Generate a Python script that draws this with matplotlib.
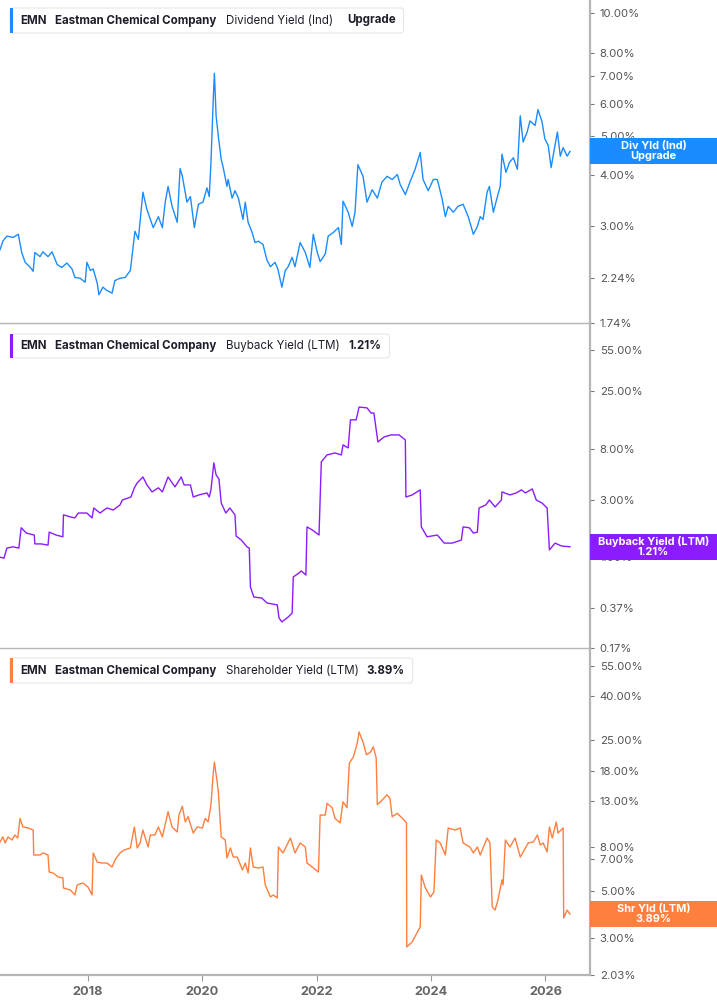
import numpy as np
import matplotlib.pyplot as plt
from matplotlib.patches import Rectangle, FancyBboxPatch
from matplotlib.ticker import FixedLocator, NullLocator, FuncFormatter

plt.rcParams['font.family'] = ['Inter', 'DejaVu Sans']

# Dividend Yield (Ind), % -- decimal years
div_t = [2016.46, 2016.51, 2016.58, 2016.69, 2016.78, 2016.84, 2016.90, 2016.98, 2017.04, 2017.07,
         2017.16, 2017.21, 2017.30, 2017.37, 2017.46, 2017.54, 2017.63, 2017.72, 2017.77, 2017.86,
         2017.95, 2017.98, 2018.04, 2018.09, 2018.16, 2018.19, 2018.26, 2018.33, 2018.42, 2018.47,
         2018.56, 2018.65, 2018.74, 2018.79, 2018.82, 2018.88, 2018.93, 2018.96, 2019.03, 2019.09,
         2019.14, 2019.23, 2019.30, 2019.35, 2019.40, 2019.47, 2019.56, 2019.61, 2019.65, 2019.73,
         2019.79, 2019.86, 2019.93, 2020.01, 2020.08, 2020.12, 2020.15, 2020.19, 2020.21, 2020.24,
         2020.28, 2020.33, 2020.36, 2020.43, 2020.45, 2020.52, 2020.57, 2020.63, 2020.71, 2020.75,
         2020.80, 2020.87, 2020.92, 2020.98, 2021.06, 2021.13, 2021.19, 2021.27, 2021.32, 2021.39,
         2021.45, 2021.50, 2021.57, 2021.62, 2021.71, 2021.80, 2021.88, 2021.94, 2022.01, 2022.06,
         2022.15, 2022.20, 2022.29, 2022.38, 2022.43, 2022.46, 2022.55, 2022.62, 2022.67, 2022.72,
         2022.81, 2022.88, 2022.97, 2023.06, 2023.14, 2023.23, 2023.32, 2023.41, 2023.46, 2023.55,
         2023.63, 2023.72, 2023.81, 2023.86, 2023.95, 2024.04, 2024.11, 2024.19, 2024.25, 2024.30,
         2024.39, 2024.47, 2024.56, 2024.65, 2024.74, 2024.81, 2024.86, 2024.91, 2024.98, 2025.02,
         2025.09, 2025.16, 2025.21, 2025.24, 2025.31, 2025.37, 2025.44, 2025.51, 2025.56, 2025.61,
         2025.68, 2025.73, 2025.82, 2025.87, 2025.94, 2025.99, 2026.05, 2026.10, 2026.14, 2026.21,
         2026.26, 2026.31, 2026.38, 2026.43]
div_v = [2.63, 2.76, 2.84, 2.82, 2.87, 2.59, 2.45, 2.39, 2.33, 2.59,
         2.53, 2.60, 2.53, 2.60, 2.42, 2.38, 2.44, 2.36, 2.25, 2.24,
         2.19, 2.45, 2.34, 2.36, 2.18, 2.04, 2.13, 2.09, 2.06, 2.21,
         2.24, 2.25, 2.34, 2.68, 2.92, 2.79, 3.30, 3.64, 3.30, 3.12,
         2.98, 3.17, 2.98, 3.44, 3.76, 3.36, 3.07, 4.16, 3.98, 3.44,
         3.55, 2.98, 3.40, 3.44, 3.73, 3.55, 4.30, 6.14, 7.12, 5.60,
         4.97, 4.37, 4.21, 3.76, 3.91, 3.52, 3.67, 3.52, 3.12, 3.44,
         3.07, 2.90, 2.74, 2.76, 2.71, 2.48, 2.39, 2.45, 2.36, 2.13,
         2.34, 2.39, 2.52, 2.39, 2.74, 2.59, 2.38, 2.87, 2.59, 2.46,
         2.57, 2.84, 2.90, 2.98, 2.71, 3.46, 3.25, 3.00, 3.25, 4.25,
         3.98, 3.44, 3.69, 3.52, 3.85, 3.98, 3.91, 4.02, 3.80, 3.59,
         3.85, 4.14, 4.55, 3.91, 3.67, 3.91, 3.91, 3.52, 3.17, 3.36,
         3.25, 3.36, 3.40, 3.17, 2.87, 3.00, 3.17, 3.12, 3.64, 3.76,
         3.25, 3.55, 3.76, 4.51, 4.07, 4.30, 4.42, 4.14, 5.60, 4.83,
         5.11, 5.44, 5.30, 5.80, 5.42, 4.92, 4.73, 4.18, 4.51, 5.11,
         4.46, 4.68, 4.46, 4.58]

# Buyback Yield (LTM), %
bb_t = [2016.46, 2016.53, 2016.58, 2016.69, 2016.79, 2016.83, 2016.92, 2017.06, 2017.07, 2017.18,
        2017.30, 2017.32, 2017.44, 2017.56, 2017.57, 2017.69, 2017.77, 2017.83, 2017.98, 2018.07,
        2018.10, 2018.21, 2018.33, 2018.44, 2018.56, 2018.60, 2018.75, 2018.81, 2018.86, 2018.96,
        2019.03, 2019.12, 2019.23, 2019.30, 2019.40, 2019.52, 2019.63, 2019.68, 2019.79, 2019.84,
        2019.94, 2020.08, 2020.12, 2020.15, 2020.20, 2020.24, 2020.29, 2020.33, 2020.41, 2020.48,
        2020.57, 2020.59, 2020.68, 2020.78, 2020.82, 2020.84, 2020.90, 2021.04, 2021.13, 2021.31,
        2021.34, 2021.39, 2021.50, 2021.57, 2021.59, 2021.69, 2021.73, 2021.81, 2021.83, 2021.92,
        2022.04, 2022.08, 2022.18, 2022.32, 2022.43, 2022.46, 2022.55, 2022.59, 2022.69, 2022.74,
        2022.88, 2022.95, 2023.00, 2023.07, 2023.18, 2023.30, 2023.44, 2023.55, 2023.56, 2023.67,
        2023.81, 2023.83, 2023.93, 2024.11, 2024.23, 2024.37, 2024.53, 2024.56, 2024.67, 2024.74,
        2024.81, 2024.84, 2024.96, 2025.02, 2025.12, 2025.23, 2025.24, 2025.38, 2025.49, 2025.58,
        2025.65, 2025.77, 2025.84, 2025.94, 2026.03, 2026.07, 2026.17, 2026.28, 2026.43]
bb_v = [0.99, 0.97, 1.18, 1.21, 1.18, 1.75, 1.58, 1.52, 1.28, 1.28,
        1.25, 1.61, 1.52, 1.47, 2.25, 2.16, 2.12, 2.33, 2.33, 2.12,
        2.57, 2.33, 2.57, 2.47, 2.73, 3.00, 3.18, 3.80, 4.18, 4.69,
        4.02, 3.51, 3.80, 3.51, 4.69, 3.87, 4.69, 4.02, 4.02, 3.18,
        3.31, 3.44, 3.18, 3.65, 6.16, 4.88, 4.51, 2.83, 2.33, 2.57,
        2.25, 1.49, 1.38, 1.21, 1.18, 0.556, 0.457, 0.448, 0.407, 0.392,
        0.305, 0.282, 0.310, 0.335, 0.674, 0.729, 0.758, 0.70, 1.78, 1.68,
        1.52, 6.28, 7.19, 7.47, 7.19, 8.73, 8.24, 14.2, 14.2, 18.2,
        17.9, 16.2, 16.2, 9.25, 10.2, 10.6, 10.6, 9.62, 3.18, 3.31,
        3.65, 1.78, 1.47, 1.52, 1.30, 1.30, 1.38, 1.78, 1.75, 1.58,
        1.61, 2.57, 2.73, 3.00, 2.62, 3.00, 3.51, 3.31, 3.44, 3.65,
        3.44, 3.72, 3.00, 2.83, 2.57, 1.14, 1.30, 1.23, 1.21]

# Shareholder Yield (LTM), %
shr_t = [2016.46, 2016.51, 2016.55, 2016.60, 2016.67, 2016.72, 2016.77, 2016.81, 2016.86, 2016.95,
         2017.04, 2017.05, 2017.16, 2017.21, 2017.30, 2017.32, 2017.39, 2017.48, 2017.56, 2017.57,
         2017.69, 2017.77, 2017.81, 2017.91, 2018.00, 2018.07, 2018.09, 2018.16, 2018.24, 2018.33,
         2018.42, 2018.47, 2018.56, 2018.63, 2018.74, 2018.79, 2018.81, 2018.86, 2018.91, 2018.96,
         2019.05, 2019.09, 2019.17, 2019.23, 2019.30, 2019.38, 2019.40, 2019.47, 2019.56, 2019.59,
         2019.65, 2019.70, 2019.75, 2019.84, 2019.91, 2020.00, 2020.05, 2020.10, 2020.15, 2020.19,
         2020.21, 2020.26, 2020.28, 2020.31, 2020.33, 2020.40, 2020.43, 2020.49, 2020.54, 2020.61,
         2020.70, 2020.75, 2020.80, 2020.84, 2020.89, 2020.98, 2021.06, 2021.10, 2021.19, 2021.24,
         2021.31, 2021.33, 2021.41, 2021.48, 2021.54, 2021.62, 2021.71, 2021.80, 2021.83, 2021.92,
         2022.03, 2022.06, 2022.15, 2022.18, 2022.27, 2022.32, 2022.41, 2022.46, 2022.53, 2022.57,
         2022.64, 2022.71, 2022.74, 2022.81, 2022.87, 2022.94, 2022.99, 2023.04, 2023.06, 2023.14,
         2023.23, 2023.28, 2023.32, 2023.41, 2023.50, 2023.57, 2023.575, 2023.67, 2023.76, 2023.81,
         2023.83, 2023.90, 2023.99, 2024.05, 2024.09, 2024.16, 2024.25, 2024.30, 2024.42, 2024.51,
         2024.56, 2024.68, 2024.74, 2024.81, 2024.86, 2024.98, 2025.03, 2025.07, 2025.12, 2025.17,
         2025.24, 2025.26, 2025.30, 2025.38, 2025.47, 2025.56, 2025.61, 2025.70, 2025.79, 2025.86,
         2025.91, 2025.96, 2026.03, 2026.07, 2026.12, 2026.19, 2026.22, 2026.31, 2026.32, 2026.38,
         2026.43]
shr_v = [8.40, 8.86, 8.31, 8.86, 8.58, 9.05, 8.76, 10.8, 9.86, 9.75,
         9.54, 7.31, 7.31, 7.47, 7.31, 6.09, 6.03, 5.78, 5.72, 5.14,
         5.03, 4.77, 5.31, 5.42, 5.19, 4.77, 7.47, 6.78, 6.71, 6.71,
         6.43, 6.93, 7.47, 7.71, 7.88, 9.24, 9.86, 7.88, 8.31, 9.54,
         7.96, 9.05, 9.05, 9.86, 8.86, 11.0, 11.6, 9.86, 9.34, 11.2,
         12.3, 10.4, 11.0, 9.24, 9.86, 9.75, 10.8, 10.4, 12.5, 17.5,
         19.7, 15.8, 14.3, 10.6, 8.86, 8.58, 7.08, 7.88, 7.15, 7.15,
         6.23, 6.71, 6.03, 7.88, 6.43, 6.36, 6.43, 5.31, 4.67, 4.77,
         4.62, 7.96, 7.47, 8.13, 8.76, 7.47, 8.31, 7.96, 6.71, 6.43,
         6.09, 11.2, 11.2, 12.7, 12.1, 10.8, 10.3, 12.9, 12.1, 19.5,
         20.8, 24.2, 27.2, 24.4, 21.3, 21.9, 23.2, 20.6, 12.5, 13.1,
         13.9, 13.4, 11.0, 11.4, 10.8, 10.3, 2.74, 2.89, 3.21, 3.39,
         5.90, 5.14, 4.67, 4.93, 8.58, 8.31, 7.31, 9.75, 9.54, 9.75,
         8.31, 7.96, 7.47, 7.96, 7.31, 8.76, 8.31, 4.20, 4.06, 4.52,
         5.60, 5.31, 8.58, 7.96, 8.76, 7.15, 7.55, 8.31, 8.40, 9.05,
         8.13, 8.31, 7.55, 9.86, 8.76, 10.4, 9.24, 9.75, 3.73, 4.06,
         3.89]

div_ticks = [1.74, 2.24, 3, 4, 5, 6, 7, 8, 10]
bb_ticks = [0.17, 0.37, 1, 3, 8, 25, 55]
shr_ticks = [2.03, 3, 5, 7, 8, 13, 18, 25, 40, 55]
x_ticks = [2018, 2020, 2022, 2024, 2026]

W, H = 717, 1005
fig = plt.figure(figsize=(W / 100, H / 100), dpi=100)
renderer = fig.canvas.get_renderer()

def fx(px):
    return px / W

def fy(py):
    return 1 - py / H

panels = [
    dict(t=div_t, v=div_v, color='#1a8cff', ylim=(1.74, 10.76), ticks=div_ticks,
         top=0, bottom=323, tag='Div Yld (Ind)\nUpgrade',
         metric='Dividend Yield (Ind)', extra='Upgrade', box_y=(8, 33), gap_last=14),
    dict(t=bb_t, v=bb_v, color='#8a1cff', ylim=(0.17, 92.9), ticks=bb_ticks,
         top=323, bottom=648, tag='Buyback Yield (LTM)\n1.21%',
         metric='Buyback Yield (LTM)', extra='1.21%', box_y=(334, 358), gap_last=9),
    dict(t=shr_t, v=shr_v, color='#ff7f3f', ylim=(2.03, 66.6), ticks=shr_ticks,
         top=648, bottom=975, tag='Shr Yld (LTM)\n3.89%',
         metric='Shareholder Yield (LTM)', extra='3.89%', box_y=(658, 683), gap_last=8),
]

for i, p in enumerate(panels):
    ax = fig.add_axes([0, fy(p['bottom']), fx(590), (p['bottom'] - p['top']) / H])
    ax.plot(p['t'], p['v'], color=p['color'], lw=1.0)
    ax.set_yscale('log')
    ax.set_ylim(*p['ylim'])
    ax.set_xlim(2016.46, 2026.78)
    ax.yaxis.tick_right()
    ax.yaxis.set_major_locator(FixedLocator(p['ticks']))
    ax.yaxis.set_minor_locator(NullLocator())
    ax.yaxis.set_major_formatter(FuncFormatter(lambda v, pos: f'{v:.2f}%'))
    ax.tick_params(axis='y', direction='out', length=3, width=0.8, color='#777',
                   labelsize=8.2, labelcolor='#555', pad=4)
    for s in ['top', 'left']:
        ax.spines[s].set_visible(False)
    ax.spines['right'].set_color('#b5b5b5')
    ax.spines['right'].set_linewidth(1.6)
    ax.spines['bottom'].set_color('#b5b5b5')
    ax.spines['bottom'].set_linewidth(1.0)
    ax.set_xticks(x_ticks)
    if i < 2:
        ax.tick_params(axis='x', length=0, labelbottom=False)
    else:
        ax.spines['bottom'].set_linewidth(1.6)
        ax.tick_params(axis='x', direction='out', length=4, width=0.8, color='#999',
                       labelsize=9.2, labelcolor='#666', pad=4)
        for lab in ax.get_xticklabels():
            lab.set_fontweight('bold')
    ax.patch.set_alpha(0)

    # value tag on the right axis
    last = p['v'][-1]
    yfrac = ax.transAxes.inverted().transform(ax.transData.transform((p['t'][-1], last)))[1]
    h = 26 / (p['bottom'] - p['top'])
    ax.add_patch(Rectangle((1.0, yfrac - h / 2), 127 / 590, h, transform=ax.transAxes,
                           facecolor=p['color'], edgecolor='none', clip_on=False, zorder=10))
    ax.text(1.0 + 63.5 / 590, yfrac, p['tag'], transform=ax.transAxes, ha='center', va='center',
            color='white', fontsize=7.9, fontweight='bold', linespacing=1.0, zorder=11,
            clip_on=False)

    # legend box: texts laid out one after another
    y0, y1 = p['box_y']
    yc = fy((y0 + y1) / 2)
    parts = [('EMN', 'bold', 9), ('Eastman Chemical Company', 'bold', 9),
             (p['metric'], 'normal', p['gap_last']), (p['extra'], 'bold', 0)]
    xpos = 20
    for txt, wt, gap in parts:
        t = fig.text(fx(xpos), yc, txt, fontsize=8.3, fontweight=wt, color='#1e1e2a',
                     va='center', zorder=7)
        bb = t.get_window_extent(renderer)
        xpos = bb.x1 + gap
    box_r = xpos + 8
    fig.patches.append(FancyBboxPatch((fx(10), fy(y1)), fx(box_r - 10), (y1 - y0) / H,
                                      boxstyle='round,pad=0,rounding_size=0.004',
                                      transform=fig.transFigure, facecolor='white',
                                      edgecolor='#e6e6e6', lw=0.8, zorder=5))
    fig.patches.append(Rectangle((fx(10), fy(y1)), fx(3), (y1 - y0) / H,
                                 transform=fig.transFigure, facecolor=p['color'],
                                 edgecolor='none', zorder=6))

fig.savefig('out.png', dpi=100)
